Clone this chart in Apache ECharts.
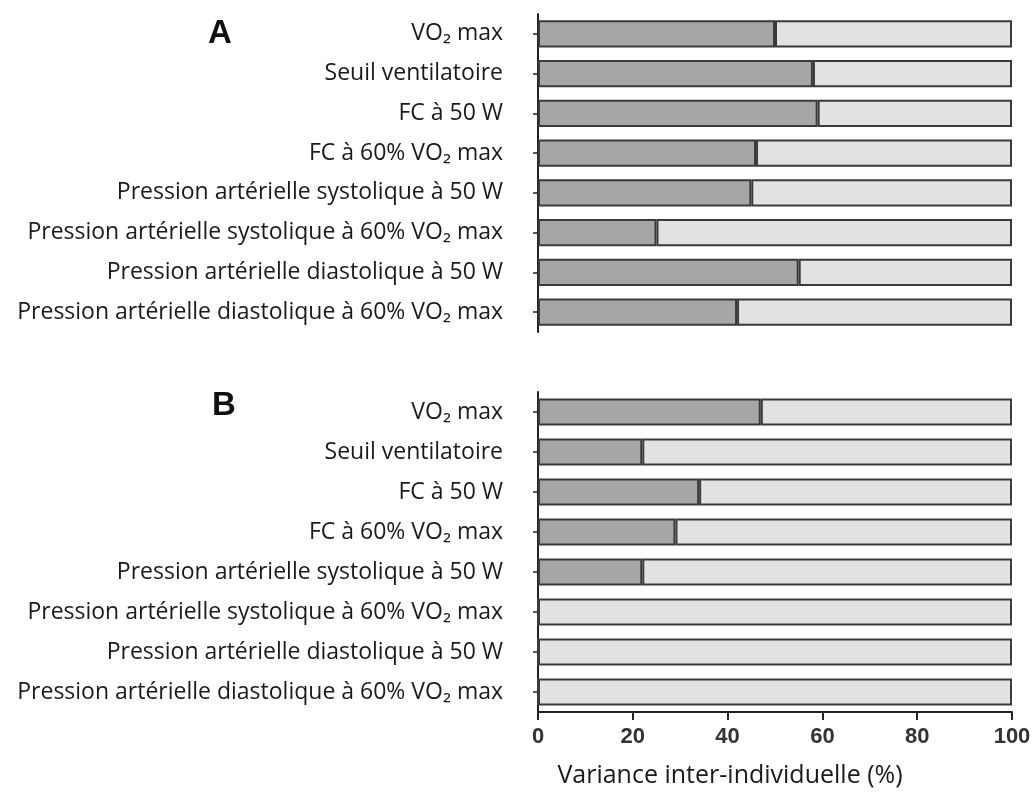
<!DOCTYPE html>
<html>
<head>
<meta charset="utf-8">
<script src="https://cdn.jsdelivr.net/npm/echarts@6/dist/echarts.min.js"></script>
<style>html,body{margin:0;padding:0;background:#fff}#c{width:1034px;height:794px}</style>
</head>
<body>
<div id="c"></div>
<script>
// Data
const categories = [
  "VO₂ max",
  "Seuil ventilatoire",
  "FC à 50 W",
  "FC à 60% VO₂ max",
  "Pression artérielle systolique à 50 W",
  "Pression artérielle systolique à 60% VO₂ max",
  "Pression artérielle diastolique à 50 W",
  "Pression artérielle diastolique à 60% VO₂ max"
];
// Panel A: inter-individual share (dark) and remainder (light)
const darkA  = [50, 58, 59, 46, 45, 25, 55, 42];
const lightA = [50, 42, 41, 54, 55, 75, 45, 58];
// Panel B
const darkB  = [47, 22, 34, 29, 22, 0, 0, 0];
const lightB = [53, 78, 66, 71, 78, 100, 100, 100];
const xTicks = [0, 20, 40, 60, 80, 100];
const panelLabels = ["A", "B"];
const axisTitle = "Variance inter-individuelle (%)";

const chart = echarts.init(document.getElementById('c'));
const labelFont = "'Open Sans', 'Noto Sans', sans-serif";
const black = '#222';

function yAxisFor(grid) {
  return {
    type: 'category', gridIndex: grid, data: categories, inverse: true,
    axisLine: { show: true, lineStyle: { color: black, width: 2 } },
    axisTick: { show: true, alignWithLabel: true, length: 5, lineStyle: { color: black, width: 1.5 } },
    axisLabel: { color: '#1a1a1a', fontSize: 23, fontFamily: labelFont, margin: 35 }
  };
}
function barSeries(grid, data, color, stack) {
  return {
    type: 'bar', xAxisIndex: grid, yAxisIndex: grid, stack: stack, data: data,
    barWidth: '68%', silent: true,
    itemStyle: { color: color, borderColor: '#3a3a3a', borderWidth: 2 }
  };
}

chart.setOption({
  animation: false,
  backgroundColor: '#fff',
  title: [
    { text: panelLabels[0], left: 203, top: 12, textStyle: { fontSize: 33, fontWeight: 'bold', fontFamily: 'Liberation Sans, Arial, sans-serif', color: '#111' } },
    { text: panelLabels[1], left: 207, top: 384, textStyle: { fontSize: 33, fontWeight: 'bold', fontFamily: 'Liberation Sans, Arial, sans-serif', color: '#111' } }
  ],
  graphic: [
    { type: 'text', x: 730, y: 776, silent: true,
      style: { text: axisTitle, fill: '#1a1a1a', font: "25px 'Open Sans', sans-serif", textAlign: 'center', textVerticalAlign: 'middle' } }
  ],
  grid: [
    { left: 538, top: 14, width: 474, height: 318 },
    { left: 538, top: 392, width: 474, height: 320 }
  ],
  xAxis: [
    { type: 'value', gridIndex: 0, min: 0, max: 100, interval: 20,
      axisLine: { show: false }, axisTick: { show: false }, axisLabel: { show: false }, splitLine: { show: false } },
    { type: 'value', gridIndex: 1, min: xTicks[0], max: xTicks[xTicks.length - 1], interval: 20,
      axisLine: { show: true, lineStyle: { color: black, width: 2 } },
      axisTick: { show: true, length: 8, lineStyle: { color: black, width: 2 } },
      axisLabel: { color: '#333', fontSize: 22, fontWeight: 'bold', fontFamily: 'Liberation Sans, Arial, sans-serif', margin: 14 },
      splitLine: { show: false } }
  ],
  yAxis: [yAxisFor(0), yAxisFor(1)],
  series: [
    barSeries(0, darkA, '#a6a6a6', 'a'),
    barSeries(0, lightA, '#e2e2e2', 'a'),
    barSeries(1, darkB, '#a6a6a6', 'b'),
    barSeries(1, lightB, '#e2e2e2', 'b')
  ]
});
</script>
</body>
</html>
